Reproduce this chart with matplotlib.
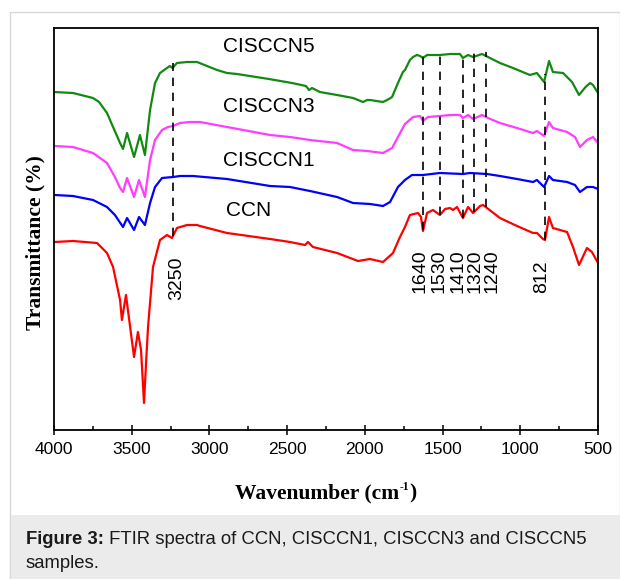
import numpy as np
import matplotlib
matplotlib.use('Agg')
import matplotlib.pyplot as plt
from matplotlib.patches import Rectangle

# ---------------- data (transmittance in arbitrary units, offset stacked) ----------------
wn_ccn = [3995, 3878, 3723, 3659, 3620, 3575, 3563, 3537, 3485, 3460, 3440, 3421, 3405, 3395,
          3363, 3318, 3273, 3241, 3209, 3144, 3080, 3061, 2887, 2610, 2482, 2385, 2366, 2334,
          2179, 2044, 1967, 1883, 1819, 1774, 1742, 1710, 1658, 1639, 1626, 1600, 1562, 1517,
          1484, 1452, 1433, 1407, 1369, 1336, 1304, 1259, 1240, 1214, 1131, 1021, 918, 893,
          854, 841, 815, 790, 699, 661, 622, 571, 539, 500]
t_ccn = [188, 189, 187, 177, 163, 130, 110, 135, 73, 98, 80, 27, 75, 103,
         163, 190, 195, 192, 202, 205, 205, 204, 197, 191, 188, 185, 188, 183,
         177, 169, 171, 168, 177, 193, 203, 215, 217, 213, 199, 217, 220, 215,
         221, 222, 220, 223, 212, 223, 217, 224, 225, 222, 212, 204, 197, 197,
         191, 190, 213, 202, 198, 183, 165, 182, 178, 167]

wn_c1 = [3995, 3878, 3749, 3659, 3608, 3556, 3530, 3485, 3453, 3415, 3382, 3350, 3305, 3234,
         3189, 3106, 2887, 2610, 2482, 2353, 2179, 2076, 1967, 1883, 1838, 1787, 1742, 1697,
         1626, 1517, 1369, 1324, 1214, 1131, 1021, 918, 893, 847, 815, 790, 699, 648, 616,
         571, 532, 500]
t_c1 = [235, 234, 230, 223, 215, 203, 212, 200, 213, 205, 227, 243, 252, 253,
        254, 254, 251, 244, 243, 239, 233, 227, 226, 224, 228, 243, 250, 255,
        255, 257, 256, 257, 256, 254, 251, 248, 250, 243, 254, 250, 248, 245, 238,
        243, 243, 241]

wn_c3 = [3995, 3878, 3749, 3659, 3608, 3575, 3556, 3530, 3485, 3453, 3415, 3382, 3350, 3305,
         3267, 3234, 3189, 3125, 3061, 2887, 2610, 2482, 2353, 2179, 2076, 1986, 1883, 1825,
         1787, 1742, 1690, 1645, 1626, 1594, 1517, 1452, 1388, 1369, 1336, 1304, 1246, 1208,
         1131, 1021, 918, 893, 847, 815, 790, 699, 648, 616, 571, 532, 500]
t_c3 = [284, 283, 277, 267, 253, 242, 238, 252, 233, 250, 233, 270, 290, 300,
        303, 304, 307, 308, 308, 303, 295, 293, 290, 287, 280, 279, 277, 282,
        293, 306, 313, 314, 309, 313, 314, 315, 315, 312, 315, 311, 315, 312,
        307, 302, 297, 299, 294, 308, 302, 298, 293, 283, 290, 293, 287]

wn_c5 = [4000, 3878, 3749, 3710, 3659, 3620, 3575, 3556, 3530, 3485, 3447, 3415, 3382, 3350,
         3318, 3273, 3255, 3238, 3209, 3144, 3080, 3016, 2951, 2887, 2823, 2617, 2469, 2379,
         2359, 2340, 2289, 2179, 2076, 2012, 1986, 1967, 1883, 1845, 1825, 1787, 1755, 1742,
         1710, 1690, 1665, 1645, 1626, 1600, 1517, 1452, 1388, 1369, 1336, 1304, 1246, 1195,
         1131, 1047, 938, 893, 847, 815, 790, 725, 667, 622, 580, 551, 532, 500]
t_c5 = [338, 337, 332, 328, 317, 303, 287, 281, 297, 273, 295, 275, 320, 347,
        357, 362, 364, 362, 367, 368, 368, 364, 360, 357, 356, 351, 347, 344,
        340, 342, 338, 335, 332, 328, 330, 330, 328, 331, 333, 347, 358, 360,
        370, 373, 375, 374, 372, 375, 375, 376, 376, 372, 375, 373, 376, 372,
        367, 362, 355, 357, 348, 369, 358, 357, 348, 335, 343, 347, 345, 337]

series_names = ['CCN', 'CISCCN1', 'CISCCN3', 'CISCCN5']
series_wn = [wn_ccn, wn_c1, wn_c3, wn_c5]
series_t = [t_ccn, t_c1, t_c3, t_c5]

band_wn = [3235, 1625, 1517, 1368, 1298, 1220, 841]
band_labels = ['3250', '1640', '1530', '1410', '1320', '1240', '812']

x_ticks = [4000, 3500, 3000, 2500, 2000, 1500, 1000, 500]
x_label_parts = ['Wavenumber (cm', '-1', ')']
y_label = 'Transmittance (%)'
caption_bold = 'Figure 3:'
caption_rest = ' FTIR spectra of CCN, CISCCN1, CISCCN3 and CISCCN5'
caption_line2 = 'samples.'

# ---------------- styles / layout ----------------
colors = ['#ff0000', '#0000ff', '#ff3cff', '#128a12']
W, H = 620, 579
fig = plt.figure(figsize=(W / 100, H / 100), dpi=100)
fig.patch.set_facecolor('white')

def fx(px):
    return px / W

def fy(py):
    return 1 - py / H

# panel border and caption box
fig.add_artist(Rectangle((fx(10), fy(579)), fx(620) - fx(10), fy(12) - fy(579),
                         transform=fig.transFigure, facecolor='white',
                         edgecolor='#d8d8d8', lw=1.0, zorder=0))
fig.add_artist(Rectangle((fx(10.5), fy(579)), fx(620) - fx(10.5), fy(515) - fy(579),
                         transform=fig.transFigure, facecolor='#ebebeb',
                         edgecolor='none', zorder=0.5))

ax = fig.add_axes([fx(54), fy(430), fx(598) - fx(54), fy(28) - fy(430)])
ax.set_xlim(4000, 500)
ax.set_ylim(0, 402)

for wn, t, c in zip(series_wn, series_t, colors):
    ax.plot(wn, t, color=c, lw=1.6, solid_joinstyle='round')

# dashed band markers from top curve down to bottom curve
w5 = np.array(wn_c5[::-1]); t5 = np.array(t_c5[::-1])
w0 = np.array(wn_ccn[::-1]); t0 = np.array(t_ccn[::-1])
label_shift = [-26, 19, 6, 32, -7, -39, 19]
for b, lab, s in zip(band_wn, band_labels, label_shift):
    top = np.interp(b, w5, t5) + 4
    bot = np.interp(b, w0, t0)
    ax.plot([b, b], [bot, top], color='black', lw=1.2, dashes=(5, 4))
    ybot = 130 if lab == '3250' else 137
    ax.text(b + s, ybot, lab, rotation=90, ha='center', va='bottom',
            fontsize=14, family='Liberation Sans', color='black')

# curve labels
lab_pos_y = {'CCN': 220, 'CISCCN1': 270, 'CISCCN3': 323, 'CISCCN5': 383}
for name in series_names:
    ax.text(2910 if name != 'CCN' else 2895, lab_pos_y[name], name, ha='left', va='center',
            fontsize=15, family='Liberation Sans', color='black')

ax.set_xticks(x_ticks)
ax.set_xticklabels([str(v) for v in x_ticks], family='Liberation Sans', fontsize=12.5)
ax.set_xticks(np.arange(3750, 500, -500), minor=True)
ax.tick_params(axis='x', which='major', direction='inout', length=7, width=1.1, pad=5, top=False)
ax.tick_params(axis='x', which='minor', direction='in', length=3, width=1.1, top=False)
ax.set_yticks([])
for sp in ax.spines.values():
    sp.set_linewidth(1.3)
    sp.set_color('black')

fig.canvas.draw()
rend = fig.canvas.get_renderer()

# x label composed of main text, small superscript and closing bracket
lab_fs = 15.5
p1 = fig.text(0, fy(493), x_label_parts[0], ha='left', va='center', fontsize=lab_fs,
              family='Liberation Serif', weight='bold')
p2 = fig.text(0, fy(487), x_label_parts[1], ha='left', va='center', fontsize=8.5,
              family='Liberation Serif', weight='bold')
p3 = fig.text(0, fy(493), x_label_parts[2], ha='left', va='center', fontsize=lab_fs,
              family='Liberation Serif', weight='bold')
w1 = p1.get_window_extent(rend).width
w2 = p2.get_window_extent(rend).width
w3 = p3.get_window_extent(rend).width
total = w1 + w2 + w3 + 1
x0 = 326 - total / 2
p1.set_x(fx(x0))
p2.set_x(fx(x0 + w1 + 0.5))
p3.set_x(fx(x0 + w1 + w2 + 1))

fig.text(fx(35), fy(243), y_label, ha='center', va='center', rotation=90, fontsize=lab_fs,
         family='Liberation Serif', weight='bold')

# caption (two lines, baselines 24 px apart)
t1 = fig.text(fx(26), fy(544), caption_bold, ha='left', va='baseline', fontsize=13.3,
              family='Liberation Sans', weight='bold', color='#1a1a1a')
bb = t1.get_window_extent(renderer=rend)
fig.text(bb.x1 / W, fy(544), caption_rest, ha='left', va='baseline', fontsize=13.3,
         family='Liberation Sans', color='#1a1a1a')
fig.text(fx(26), fy(568), caption_line2, ha='left', va='baseline', fontsize=13.3,
         family='Liberation Sans', color='#1a1a1a')

fig.savefig('out.png', dpi=100)
